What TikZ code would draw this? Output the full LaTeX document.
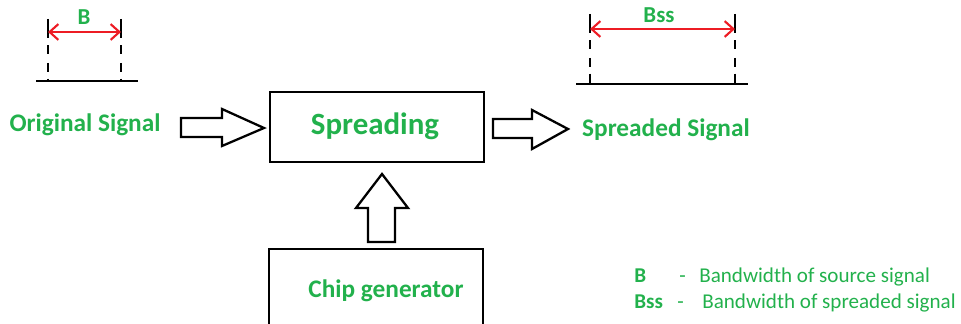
\documentclass[tikz,border=0pt]{standalone}
\usepackage{fontspec}
\setmainfont{Carlito}
\usetikzlibrary{arrows.meta, positioning}
\definecolor{sigGreen}{RGB}{34,177,76}
\definecolor{bwRed}{RGB}{237,28,36}

\begin{document}
\begin{tikzpicture}[
    x=0.02cm, y=-0.02cm,
    label/.style={text=sigGreen, font=\bfseries\fontsize{14.4}{16}\selectfont, inner sep=0pt, anchor=base},
    legend/.style={text=sigGreen, font=\fontsize{12}{14}\selectfont, inner sep=0pt, anchor=base west},
    block/.style={rectangle, draw, line width=1.2pt, minimum width=4.28cm},
    axis/.style={line width=1.7pt},
    bound/.style={line width=1.7pt, dash pattern=on 11pt off 4pt on 5pt off 5pt on 5pt off 4pt},
    bw/.style={{Straight Barb[length=5pt,width=9pt]}-{Straight Barb[length=5pt,width=9pt]}, draw=bwRed, line width=1.2pt},
    fat/.style={draw, line width=1.3pt, line join=miter, fill=white}
]
    \useasboundingbox (0,0) rectangle (961,324);
    \clip (0,0) rectangle (961,324);

    % source bandwidth
    \coordinate (bTopL) at (48,19);
    \coordinate (bTopR) at (121,19);
    \coordinate (bBotL) at (48,80);
    \coordinate (bBotR) at (121,80);
    \draw[axis] (36,81) -- (138,81);
    \draw[bound] (bTopL) -- (bBotL);
    \draw[bound] (bTopR) -- (bBotR);
    \draw[bw] (48,32) -- (121,32);
    \node[label, font=\bfseries\fontsize{13}{15}\selectfont] (bwB) at (84,25) {B};

    % spreaded bandwidth
    \coordinate (sTopL) at (590,14);
    \coordinate (sTopR) at (735,14);
    \coordinate (sBotL) at (590,83);
    \coordinate (sBotR) at (735,83);
    \draw[axis] (576,84) -- (748,84);
    \draw[bound] (sTopL) -- (sBotL);
    \draw[bound] (sTopR) -- (sBotR);
    \draw[bw] (590,29) -- (735,29);
    \node[label, font=\bfseries\fontsize{13}{15}\selectfont] (bwBss) at (659,23) {Bss};

    % blocks and labels
    \node[label] (orig) at (85,132) {Original Signal};
    \node[block, minimum height=1.4cm] (spread) at (377,127) {};
    \node[label, font=\bfseries\fontsize{17.6}{20}\selectfont] (spreadText) at (375,135) {Spreading};
    \node[label] (spreaded) at (666,137) {Spreaded Signal};
    \node[block, minimum height=1.64cm] (chip) at (376,290) {};
    \node[label] (chipText) at (386,298) {Chip generator};

    % block arrows
    \draw[fat] (181,118) -- (222,118) -- (222,109) -- (264,128) -- (222,146) -- (222,137) -- (181,137) -- cycle;
    \draw[fat] (493,119) -- (532,119) -- (532,110) -- (568,129) -- (532,149) -- (532,138) -- (493,138) -- cycle;
    \draw[fat] (368,242) -- (368,208) -- (356,208) -- (382,174) -- (408,208) -- (395,208) -- (395,242) -- cycle;

    % legend
    \node[legend, font=\bfseries\fontsize{12}{14}\selectfont] (legB) at (634,283) {B};
    \node[legend] (legBdash) at (679,283) {-};
    \node[legend] (legBtext) at (699,283) {Bandwidth of source signal};
    \node[legend, font=\bfseries\fontsize{12}{14}\selectfont] (legBss) at (634,309) {Bss};
    \node[legend] (legBssdash) at (677,309) {-};
    \node[legend] (legBsstext) at (702,309) {Bandwidth of spreaded signal};
\end{tikzpicture}
\end{document}
